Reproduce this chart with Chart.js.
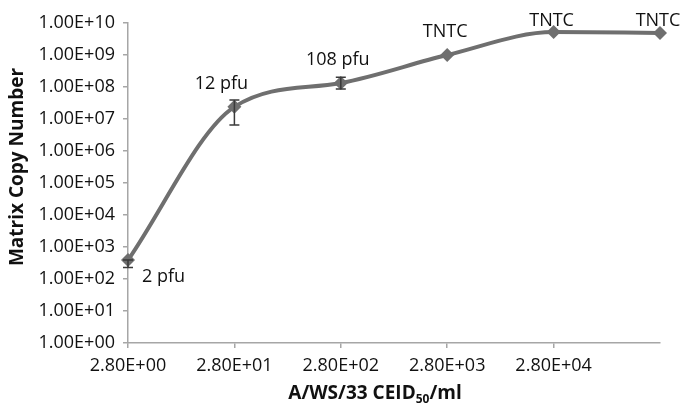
<!DOCTYPE html>
<html>
<head>
<meta charset="utf-8">
<script src="https://cdn.jsdelivr.net/npm/chart.js@4.4.1/dist/chart.umd.min.js"></script>
<style>
  html, body { margin: 0; padding: 0; background: #fff; }
  #wrap { width: 686px; height: 408px; position: relative; }
</style>
</head>
<body>
<div id="wrap"><canvas id="chart"></canvas></div>
<script>
// x categories (last one carries no label in the original)
const doseLabels = ['2.80E+00', '2.80E+01', '2.80E+02', '2.80E+03', '2.80E+04', ''];
// matrix copy number per dilution
const copyNumber = [390, 2.4e7, 1.33e8, 1.0e9, 5.2e9, 4.9e9];
// error bar limits
const errLow = [230, 6.5e6, 8.7e7, 1.0e9, 5.2e9, 4.9e9];
const errHigh = [390, 3.9e7, 2.0e8, 1.0e9, 5.2e9, 4.9e9];
// plaque counts shown next to points
const pointLabels = ['2 pfu', '12 pfu', '108 pfu', 'TNTC', 'TNTC', 'TNTC'];
// y decades
const yTicks = [1, 1e1, 1e2, 1e3, 1e4, 1e5, 1e6, 1e7, 1e8, 1e9, 1e10];

const FONT = '"Open Sans", "Liberation Sans", sans-serif';
const AXIS = '#a6a6a6';
const SERIES = '#6f6f6f';

function sci(v) {
    const parts = Number(v).toExponential(2).toUpperCase().split('E');
    const sign = parts[1][0] === '-' ? '-' : '+';
    const exp = parts[1].replace(/[+-]/, '').padStart(2, '0');
    return parts[0] + 'E' + sign + exp;
}

// error bars drawn through the scales
const errorBarPlugin = {
    id: 'errorBars',
    afterDatasetsDraw(chart) {
        const ctx = chart.ctx;
        const meta = chart.getDatasetMeta(0);
        const y = chart.scales.y;
        ctx.save();
        ctx.strokeStyle = '#3a3a3a';
        ctx.lineWidth = 1.5;
        meta.data.forEach((pt, i) => {
            if (errLow[i] === errHigh[i]) return;
            const top = y.getPixelForValue(errHigh[i]);
            const bot = y.getPixelForValue(errLow[i]);
            ctx.beginPath();
            ctx.moveTo(pt.x, top); ctx.lineTo(pt.x, bot);
            ctx.moveTo(pt.x - 5, top); ctx.lineTo(pt.x + 5, top);
            ctx.moveTo(pt.x - 5, bot); ctx.lineTo(pt.x + 5, bot);
            ctx.stroke();
        });
        ctx.restore();
    }
};

// "2 pfu", "TNTC" ... labels
const pointLabelPlugin = {
    id: 'pointLabels',
    afterDatasetsDraw(chart) {
        const ctx = chart.ctx;
        const meta = chart.getDatasetMeta(0);
        ctx.save();
        ctx.font = '18px ' + FONT;
        ctx.fillStyle = '#111';
        ctx.textBaseline = 'middle';
        meta.data.forEach((pt, i) => {
            if (i === 0) {
                ctx.textAlign = 'left';
                ctx.fillText(pointLabels[i], pt.x + 14, pt.y + 17);
                return;
            }
            ctx.textAlign = 'center';
            const dx = i === 1 ? -13 : (i === 2 ? -3 : -2);
            const ly = Math.max(pt.y - 23, chart.chartArea.top - 2);
            ctx.fillText(pointLabels[i], pt.x + dx, ly);
        });
        ctx.restore();
    }
};

// axis titles (x title has a subscript)
const axisTitlePlugin = {
    id: 'axisTitles',
    afterDraw(chart) {
        const ctx = chart.ctx;
        ctx.save();
        ctx.fillStyle = '#111';
        ctx.textBaseline = 'middle';

        // y title
        ctx.font = 'bold 19px ' + FONT;
        ctx.translate(18, 167);
        ctx.rotate(-Math.PI / 2);
        ctx.textAlign = 'center';
        ctx.fillText('Matrix Copy Number', 0, 0);
        ctx.setTransform(1, 0, 0, 1, 0, 0);

        // x title
        const main = 'A/WS/33 CEID';
        const sub = '50';
        const tail = '/ml';
        ctx.font = 'bold 19px ' + FONT;
        const w1 = ctx.measureText(main).width;
        const w3 = ctx.measureText(tail).width;
        ctx.font = 'bold 12px ' + FONT;
        const w2 = ctx.measureText(sub).width;
        let x = 375 - (w1 + w2 + w3) / 2;
        const yb = 394;
        ctx.textAlign = 'left';
        ctx.font = 'bold 19px ' + FONT;
        ctx.fillText(main, x, yb);
        x += w1;
        ctx.font = 'bold 12px ' + FONT;
        ctx.fillText(sub, x, yb + 6);
        x += w2;
        ctx.font = 'bold 19px ' + FONT;
        ctx.fillText(tail, x, yb);
        ctx.restore();
    }
};

const ctx = document.getElementById('chart').getContext('2d');
const chart = new Chart(ctx, {
    type: 'line',
    data: {
        labels: doseLabels,
        datasets: [{
            data: copyNumber,
            borderColor: SERIES,
            backgroundColor: SERIES,
            borderWidth: 4,
            cubicInterpolationMode: 'monotone',
            pointStyle: 'rectRot',
            pointRadius: 7,
            pointBackgroundColor: SERIES,
            pointBorderWidth: 0,
            clip: false
        }]
    },
    options: {
        responsive: true,
        maintainAspectRatio: false,
        animation: false,
        layout: { padding: { top: 23, right: 26, left: 0, bottom: 0 } },
        scales: {
            x: {
                type: 'category',
                offset: false,
                grid: {
                    display: true,
                    drawOnChartArea: false,
                    drawTicks: true,
                    tickLength: 5,
                    color: (c) => (c.index === doseLabels.length - 1 ? 'rgba(0,0,0,0)' : AXIS),
                    lineWidth: 1.5
                },
                border: { display: true, color: AXIS, width: 1.5 },
                ticks: {
                    color: '#111',
                    font: { family: FONT, size: 18 },
                    padding: 7,
                    maxRotation: 0,
                    autoSkip: false
                },
                afterFit(scale) { scale.height = 65; }
            },
            y: {
                type: 'logarithmic',
                min: 1,
                max: 1e10,
                afterBuildTicks(scale) {
                    scale.ticks = yTicks.map(v => ({ value: v }));
                },
                grid: {
                    display: true,
                    drawOnChartArea: false,
                    drawTicks: true,
                    tickLength: 5,
                    color: AXIS,
                    lineWidth: 1.5
                },
                border: { display: true, color: AXIS, width: 1.5 },
                ticks: {
                    color: '#111',
                    font: { family: FONT, size: 18 },
                    padding: 8,
                    autoSkip: false,
                    callback: (v) => sci(v)
                },
                afterFit(scale) { scale.width = 128; }
            }
        },
        plugins: {
            legend: { display: false },
            tooltip: { enabled: false }
        }
    },
    plugins: [errorBarPlugin, pointLabelPlugin, axisTitlePlugin]
});
</script>
</body>
</html>
